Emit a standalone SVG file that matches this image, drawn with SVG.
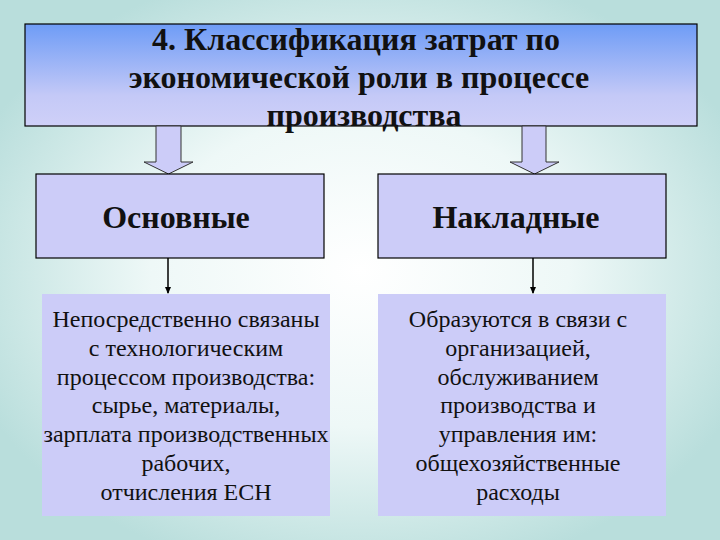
<svg xmlns="http://www.w3.org/2000/svg" width="720" height="540" viewBox="0 0 720 540">
<defs>
<radialGradient id="bg" cx="0.5" cy="0.5" r="0.58">
<stop offset="0" stop-color="#ffffff"/>
<stop offset="0.5" stop-color="#eef8f7"/>
<stop offset="0.85" stop-color="#c9e6e4"/>
<stop offset="1" stop-color="#b9dedc"/>
</radialGradient>
<linearGradient id="tg" x1="0" y1="0" x2="0" y2="1">
<stop offset="0" stop-color="#6e9cf6"/>
<stop offset="0.7" stop-color="#c4c9f7"/>
<stop offset="1" stop-color="#cfd0f8"/>
</linearGradient>
<marker id="ah" markerWidth="8" markerHeight="8" refX="6" refY="4" orient="auto" markerUnits="userSpaceOnUse">
<path d="M0,1 L7,4 L0,7 Z" fill="#000"/>
</marker>
<style>
.box{fill:#ccccf8;stroke:#000;stroke-width:1.2}
.soft{fill:#ccccf8}
.hollow{fill:#ccccf8;stroke:#333;stroke-width:1}
.h{font-family:"Liberation Serif","Times New Roman",serif;font-weight:bold;font-size:32px;fill:#111;text-anchor:middle}
.t{font-family:"Liberation Serif","Times New Roman",serif;font-size:24px;fill:#111;text-anchor:middle}
.c{stroke:#000;stroke-width:1.5;fill:none}
</style>
</defs>
<rect width="720" height="540" fill="url(#bg)"/>
<g id="title">
<rect x="25" y="24" width="672" height="102" fill="url(#tg)" stroke="#000" stroke-width="1.2"/>
<text class="h" x="356" y="50">4. Классификация затрат по</text>
<text class="h" x="359" y="88">экономической роли в процессе</text>
<text class="h" x="364" y="126">производства</text>
</g>
<g id="connectors">
<path class="hollow" d="M156,126 L181,126 L181,162 L193,162 L168.5,174 L144,162 L156,162 Z"/>
<path class="hollow" d="M522,126 L546,126 L546,162 L559,162 L534.5,174 L510,162 L522,162 Z"/>
<line class="c" x1="168" y1="258" x2="168" y2="293" marker-end="url(#ah)"/>
<line class="c" x1="533" y1="258" x2="533" y2="293" marker-end="url(#ah)"/>
</g>
<g id="osnovnye">
<rect class="box" x="36" y="174" width="288" height="84"/>
<text class="h" x="176" y="228">Основные</text>
</g>
<g id="nakladnye">
<rect class="box" x="378" y="174" width="288" height="84"/>
<text class="h" x="516" y="228">Накладные</text>
</g>
<g id="osnovnye-desc">
<rect class="soft" x="42" y="294" width="288" height="222"/>
<text class="t" x="186" y="327">Непосредственно связаны</text>
<text class="t" x="186" y="356">с технологическим</text>
<text class="t" x="186" y="385">процессом производства:</text>
<text class="t" x="186" y="413">сырье, материалы,</text>
<text class="t" x="186" y="442">зарплата производственных</text>
<text class="t" x="186" y="471">рабочих,</text>
<text class="t" x="186" y="500">отчисления ЕСН</text>
</g>
<g id="nakladnye-desc">
<rect class="soft" x="378" y="294" width="288" height="222"/>
<text class="t" x="518" y="327">Образуются в связи с</text>
<text class="t" x="518" y="356">организацией,</text>
<text class="t" x="518" y="385">обслуживанием</text>
<text class="t" x="518" y="413">производства и</text>
<text class="t" x="518" y="442">управления им:</text>
<text class="t" x="518" y="471">общехозяйственные</text>
<text class="t" x="518" y="500">расходы</text>
</g>
</svg>
